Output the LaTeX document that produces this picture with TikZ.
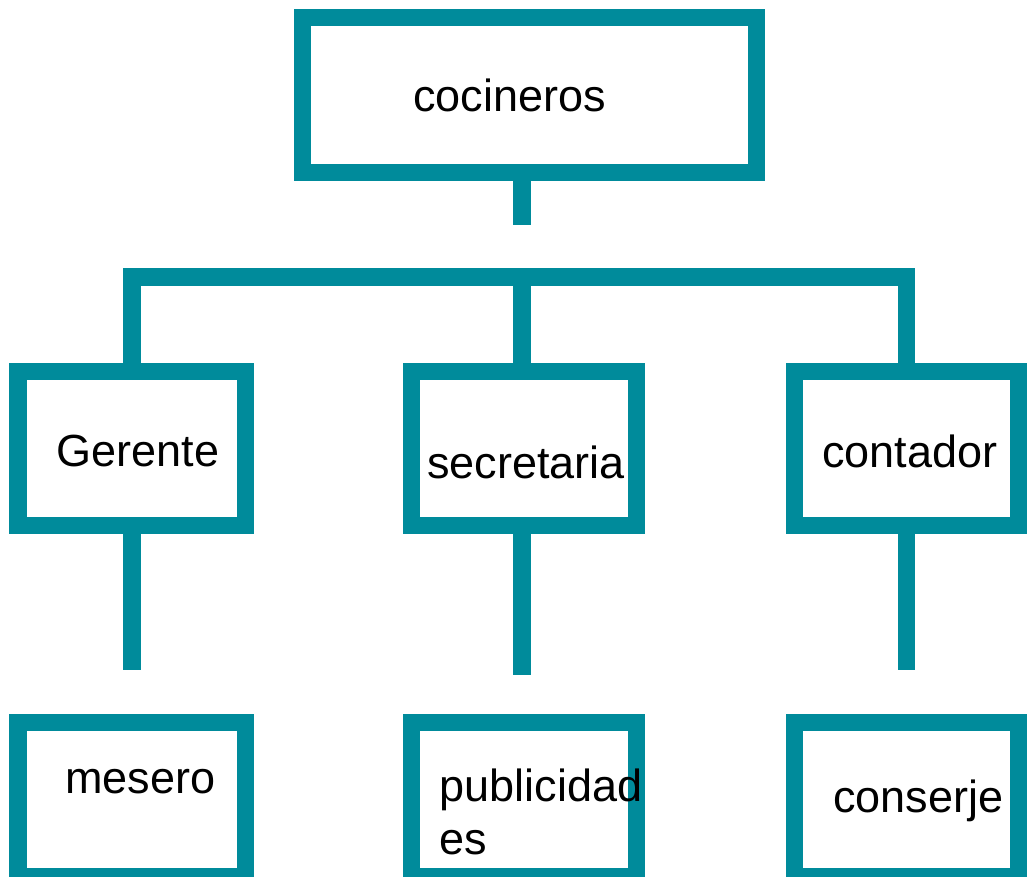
\documentclass[tikz,border=0pt]{standalone}
\usepackage{fontspec}
\setmainfont{Liberation Sans}
\definecolor{tealbox}{RGB}{0,139,155}
\begin{document}
\begin{tikzpicture}[x=1pt,y=-1pt,
  box/.style={draw=tealbox,line width=17.4pt,rectangle,inner sep=0pt,minimum height=154.2pt},
  conn/.style={draw=tealbox,line width=17.4pt},
  lbl/.style={inner sep=0pt,anchor=base west,align=left,font=\fontsize{45}{52.6}\selectfont}]
\clip (0,0) rectangle (1030,877);
% boxes
\node[box,minimum width=454.3pt,minimum height=154.5pt] (top) at (529.4,95) {};
\node[box,minimum width=227.5pt] (ger) at (131.8,448.5) {};
\node[box,minimum width=225pt] (sec) at (524,448.5) {};
\node[box,minimum width=224pt] (con) at (906.6,448.5) {};
\node[box,minimum width=227.5pt] (mes) at (131.8,799.3) {};
\node[box,minimum width=225pt] (pub) at (524,799.3) {};
\node[box,minimum width=224pt] (cons) at (906.6,799.3) {};
% connectors
\coordinate (bar) at (522,277);
\coordinate (topend) at (522,225.3);
\coordinate (gerend) at (131.8,669.7);
\coordinate (secend) at (522,675);
\coordinate (conend) at (906.6,669.7);
\draw[conn] (top.south -| topend) -- (topend);
\draw[conn] (ger.north) |- (bar) -| (con.north);
\draw[conn] (bar) -- (bar |- sec.north);
\draw[conn] (ger.south) -- (gerend);
\draw[conn] (sec.south -| secend) -- (secend);
\draw[conn] (con.south) -- (conend);
% labels
\node[lbl] (tcoc) at (413,111.7) {cocineros};
\node[lbl] (tger) at (56.5,466) {Gerente};
\node[lbl] (tsec) at (427,478.3) {secretaria};
\node[lbl] (tcon) at (822,467.3) {contador};
\node[lbl] (tmes) at (65,793.3) {mesero};
\node[lbl] (tpub) at (439.5,854.3) {publicidad\\es};
\node[lbl] (tcons) at (833,812.7) {conserje};
\end{tikzpicture}
\end{document}
